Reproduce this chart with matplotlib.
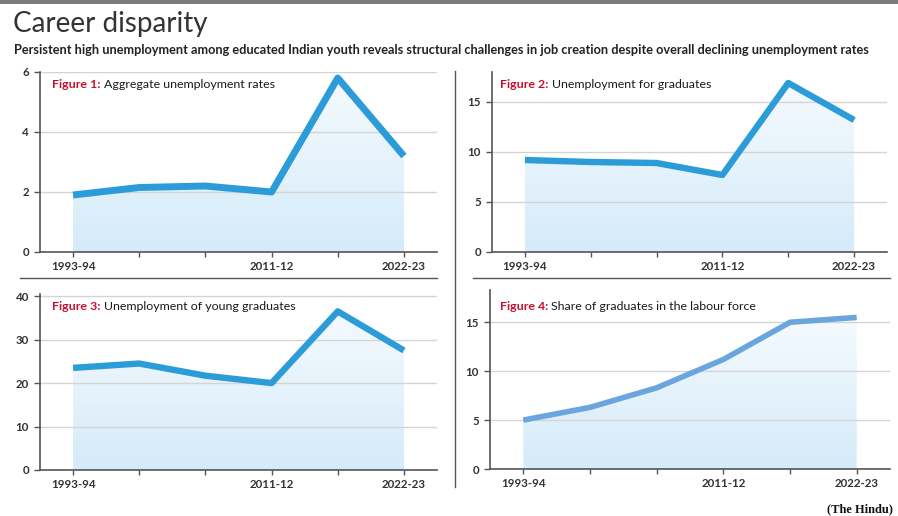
import numpy as np
import matplotlib.pyplot as plt
from matplotlib.colors import LinearSegmentedColormap
from matplotlib.lines import Line2D
from matplotlib.patches import Rectangle

W, H = 898, 516

periods = ['1993-94', '', '', '2011-12', '', '2022-23']
aggregate = [1.9, 2.15, 2.2, 2.0, 5.8, 3.2]
graduates = [9.2, 9.0, 8.9, 7.7, 16.9, 13.2]
young_grads = [23.5, 24.5, 21.7, 20.0, 36.5, 27.5]
grad_share = [5.0, 6.3, 8.3, 11.2, 15.0, 15.5]

fig_labels = ['Figure 1:', 'Figure 2:', 'Figure 3:', 'Figure 4:']
panel_titles = ['Aggregate unemployment rates', 'Unemployment for graduates',
                'Unemployment of young graduates', 'Share of graduates in the labour force']

plt.rcParams['font.family'] = ['Lato', 'DejaVu Sans']

fill_cmap = LinearSegmentedColormap.from_list('fill', ['#d4ebf9', '#f5fafe'])


def px_rect(l, t, r, b):
    return [l / W, 1 - b / H, (r - l) / W, (b - t) / H]


# (rect, series, yticks, ylim, line colour, line width, title pos)
panels = [
    (px_rect(40, 72, 437, 252), aggregate, [0, 2, 4, 6], 6.0, '#2b9cd8', 5.0, (52, 85)),
    (px_rect(492, 72, 887, 252), graduates, [0, 5, 10, 15], 18.0, '#2b9cd8', 4.6, (500, 85)),
    (px_rect(40, 294, 437, 470), young_grads, [0, 10, 20, 30, 40], 40.5, '#2b9cd8', 4.6, (52, 307)),
    (px_rect(490, 290, 890, 469), grad_share, [0, 5, 10, 15], 18.3, '#6aa5dd', 4.0, (500, 307)),
]

fig = plt.figure(figsize=(W / 100, H / 100), dpi=100)

for k, (rect, vals, yt, ytop, col, lw, tpos) in enumerate(panels):
    ax = fig.add_axes(rect)
    x = np.arange(len(vals))
    poly = ax.fill_between(x, 0, vals, color='none', lw=0)
    img = ax.imshow(np.linspace(1, 0, 256).reshape(-1, 1), cmap=fill_cmap,
                    aspect='auto', extent=[x[0], x[-1], 0, max(vals)],
                    origin='upper', zorder=0.2)
    img.set_clip_path(poly.get_paths()[0], transform=ax.transData)
    ax.plot(x, vals, color=col, lw=lw, solid_joinstyle='round',
            solid_capstyle='butt', zorder=3)

    ax.set_xlim(-0.5, 5.5)
    ax.set_ylim(0, ytop)
    ax.set_xticks(x)
    ax.set_xticklabels(periods)
    ax.set_yticks(yt)
    ax.set_axisbelow(True)
    ax.yaxis.grid(True, color='#d4d4d4', lw=1)
    for s in ['top', 'right']:
        ax.spines[s].set_visible(False)
    for s in ['left', 'bottom']:
        ax.spines[s].set_color('#555555')
        ax.spines[s].set_linewidth(1.2)
    ax.tick_params(axis='x', length=3.5, width=1, color='#555555', pad=3,
                   labelsize=8.3, labelcolor='#333333')
    ax.tick_params(axis='y', length=4.5, width=1, color='#555555', pad=3.5,
                   labelsize=8.3, labelcolor='#333333')
    for lab in ax.get_xticklabels() + ax.get_yticklabels():
        lab.set_fontweight('bold')

    t = fig.text(tpos[0] / W, 1 - tpos[1] / H, fig_labels[k] + ' ', color='#c8102e',
                 fontsize=8.9, fontweight='bold', va='center')
    ax.annotate(panel_titles[k], xy=(1, 0), xycoords=t, va='bottom',
                fontsize=8.9, color='#1a1a1a')

# header
fig.patches.append(Rectangle((0, 1 - 4 / H), 1, 4 / H, transform=fig.transFigure,
                             color='#7b7b7b', lw=0))
fig.text(13 / W, 1 - 24 / H, 'Career disparity', fontsize=20,
         color='#333333', va='center')
fig.text(14 / W, 1 - 50 / H,
         'Persistent high unemployment among educated Indian youth reveals structural '
         'challenges in job creation despite overall declining unemployment rates',
         fontsize=9.2, fontweight='bold', color='#222222', va='center')

# panel separators
sep = dict(color='#555555', lw=1.0, transform=fig.transFigure)
fig.lines.append(Line2D([455 / W, 455 / W], [1 - 71 / H, 1 - 487 / H], **sep))
fig.lines.append(Line2D([20 / W, 437 / W], [1 - 278 / H, 1 - 278 / H], **sep))
fig.lines.append(Line2D([473 / W, 890 / W], [1 - 278 / H, 1 - 278 / H], **sep))

fig.text(893 / W, 1 - 509 / H, '(The Hindu)', family='Liberation Serif',
         fontweight='bold', fontsize=9, ha='right', va='center', color='#111111')

fig.savefig('out.png', dpi=100)
